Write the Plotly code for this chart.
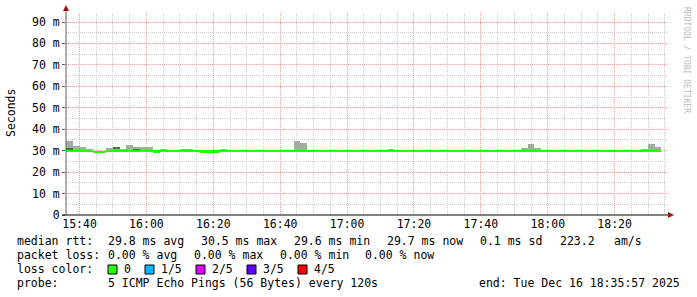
import pandas as pd
import plotly.graph_objects as go

# ---------------- data ----------------
start_time = "2025-12-16 15:36:00"
axis_start = "2025-12-16 15:35:57"
axis_end = "2025-12-16 18:35:57"
step_minutes = 2

median_rtt = [30.0, 30.0, 29.9, 29.9, 29.6, 29.6, 29.9, 29.9, 29.9, 29.9,
              29.9, 29.9, 29.9, 29.7, 29.8, 29.8, 29.8, 29.8, 29.8, 29.8,
              29.7, 29.7, 29.7, 29.8, 29.8, 29.8, 29.8, 29.8, 29.8, 29.8,
              29.8, 29.8, 29.8, 29.8, 29.8, 29.8, 29.8, 29.8, 29.8, 29.8,
              29.8, 29.8, 30.1, 29.8, 29.8, 29.8, 29.8, 30.1, 29.8, 29.8,
              29.8, 29.8, 30.0, 30.0, 29.8, 29.8, 29.8, 29.8, 29.8, 29.8,
              29.8, 29.8, 29.8, 29.8, 29.8, 29.8, 29.8, 29.8, 29.8, 29.8,
              29.8, 29.8, 29.8, 29.8, 29.8, 29.8, 29.8, 29.8, 29.8, 29.8,
              29.8, 29.8, 29.8, 29.8, 29.8, 29.8, 29.8, 29.8, 29.8]

smoke_hi = [34.7, 32.2, 31.6, 30.8, 29.6, 29.6, 31.2, 31.6, 30.8, 32.6,
            31.6, 31.6, 31.6, 29.7, 30.8, 29.8, 29.8, 30.8, 30.8, 29.8,
            29.7, 29.7, 29.7, 30.8, 29.8, 29.8, 29.8, 29.8, 30.4, 29.8,
            29.8, 29.8, 30.3, 29.8, 34.7, 33.7, 29.8, 29.8, 29.8, 29.8,
            29.8, 29.8, 30.1, 29.8, 30.3, 30.3, 29.8, 30.3, 30.8, 29.8,
            29.8, 29.8, 30.0, 30.0, 30.3, 29.8, 29.8, 29.8, 29.8, 29.8,
            29.8, 29.8, 29.8, 29.8, 29.8, 30.3, 30.3, 29.8, 31.2, 33.1,
            31.2, 29.8, 29.8, 29.8, 29.8, 29.8, 29.8, 29.8, 29.8, 29.8,
            29.8, 30.3, 30.3, 30.3, 30.3, 29.8, 30.8, 33.1, 31.8]
smoke_lo = 29.5

dark_steps = [0, 7, 10]
dark_lo = [30.5, 30.8, 30.2]
dark_hi = [30.9, 31.3, 30.9]

ytick_vals = [0, 10, 20, 30, 40, 50, 60, 70, 80, 90]
ytick_text = ["0", "10 m", "20 m", "30 m", "40 m", "50 m", "60 m", "70 m", "80 m", "90 m"]

legend_rows = [
    [("median rtt:", 16), ("29.8 ms avg", 107), ("30.5 ms max", 200), ("29.6 ms min", 293),
     ("29.7 ms now", 386), ("0.1 ms sd", 479), ("223.2", 559), ("am/s", 613)],
    [("packet loss:", 16), ("0.00 % avg", 107), ("0.00 % max", 193), ("0.00 % min", 279),
     ("0.00 % now", 364)],
    [("loss color:", 16)],
    [("probe:", 16), ("5 ICMP Echo Pings (56 Bytes) every 120s", 107),
     ("end: Tue Dec 16 18:35:57 2025", 478)],
]
loss_labels = ["0", "1/5", "2/5", "3/5", "4/5"]
loss_colors = ["#26ff00", "#00b8ff", "#dd00ff", "#5e00ff", "#ff0000"]
loss_box_x = [108, 145, 196, 247, 298]

# ---------------- geometry helpers ----------------
W, H = 697, 297
L, R, T, B = 66, 668, 13, 215
PW, PH = R - L, B - T
MONO = "DejaVu Sans Mono"


def px(x):
    return (x - L) / PW


def py(y):
    return (B - y) / PH


N = len(median_rtt)
times = pd.date_range(start_time, periods=N, freq=f"{step_minutes}min") + pd.Timedelta(minutes=step_minutes / 2)
width_ms = step_minutes * 60 * 1000

fig = go.Figure()

# smoke (light gray)
fig.add_trace(go.Bar(
    x=times, y=[h - smoke_lo for h in smoke_hi], base=smoke_lo, width=width_ms,
    marker=dict(color="#a8a8a8", line=dict(width=0)), hoverinfo="skip", showlegend=False))
# denser smoke (dark gray)
fig.add_trace(go.Bar(
    x=[times[i] for i in dark_steps], y=[h - l for h, l in zip(dark_hi, dark_lo)], base=dark_lo,
    width=width_ms, marker=dict(color="#606060", line=dict(width=0)),
    hoverinfo="skip", showlegend=False))
# median band coloured by loss (all 0 loss -> green)
band = 0.8
fig.add_trace(go.Bar(
    x=times, y=[band] * N, base=[m - band / 2 for m in median_rtt], width=width_ms,
    marker=dict(color=loss_colors[0], line=dict(width=0)), hoverinfo="skip", showlegend=False))

shapes = []
# axis lines
shapes.append(dict(type="line", xref="paper", yref="paper", x0=px(66), x1=px(66), y0=py(215), y1=py(9),
                   line=dict(color="#606060", width=1)))
shapes.append(dict(type="line", xref="paper", yref="paper", x0=px(62), x1=px(670), y0=py(215), y1=py(215),
                   line=dict(color="#000000", width=1)))
# arrows
shapes.append(dict(type="path", xref="paper", yref="paper",
                   path=f"M {px(66)} {py(5)} L {px(63)} {py(11)} L {px(69)} {py(11)} Z",
                   fillcolor="#a01010", line=dict(width=0)))
shapes.append(dict(type="path", xref="paper", yref="paper",
                   path=f"M {px(674)} {py(215)} L {px(668)} {py(212)} L {px(668)} {py(218)} Z",
                   fillcolor="#a01010", line=dict(width=0)))
# loss colour boxes
for bx, col in zip(loss_box_x, loss_colors):
    shapes.append(dict(type="rect", xref="paper", yref="paper",
                       x0=px(bx), x1=px(bx + 9), y0=py(274), y1=py(265),
                       fillcolor=col, line=dict(color="#000000", width=1)))

annotations = []
row_y = [241, 255, 269, 283]
for row, yy in zip(legend_rows, row_y):
    for text, xx in row:
        annotations.append(dict(text=text, x=px(xx), y=py(yy), xref="paper", yref="paper",
                                xanchor="left", yanchor="middle", showarrow=False,
                                font=dict(family=MONO, size=11.5, color="#000000"), borderpad=0))
for lab, bx in zip(loss_labels, loss_box_x):
    annotations.append(dict(text=lab, x=px(bx + 15), y=py(269), xref="paper", yref="paper",
                            xanchor="left", yanchor="middle", showarrow=False,
                            font=dict(family=MONO, size=11.5, color="#000000"), borderpad=0))
# y axis title
annotations.append(dict(text="Seconds", x=px(11), y=py(113), xref="paper", yref="paper",
                        xanchor="center", yanchor="middle", textangle=-90, showarrow=False,
                        font=dict(family=MONO, size=11.5, color="#000000"), borderpad=0))
# watermark
annotations.append(dict(text="RRDTOOL / TOBI OETIKER", x=px(687), y=py(60), xref="paper", yref="paper",
                        xanchor="center", yanchor="middle", textangle=90, showarrow=False,
                        font=dict(family=MONO, size=8, color="#bcbcbc"), borderpad=0))

fig.update_layout(
    width=W, height=H,
    margin=dict(l=L, r=W - R, t=T, b=H - B, pad=0),
    paper_bgcolor="white", plot_bgcolor="white",
    barmode="overlay", bargap=0,
    showlegend=False,
    shapes=shapes, annotations=annotations,
    xaxis=dict(
        type="date", range=[axis_start, axis_end],
        tick0="2025-12-16 15:40:00", dtick=20 * 60 * 1000, tickformat="%H:%M",
        showgrid=True, gridcolor="#eba0a0", griddash="1px,1px", gridwidth=1,
        minor=dict(dtick=5 * 60 * 1000, tick0="2025-12-16 15:40:00", showgrid=True,
                   gridcolor="#cccccc", griddash="1px,1px", gridwidth=1),
        showline=False, zeroline=False, ticks="",
        tickfont=dict(family=MONO, size=11.5, color="#000000"),
    ),
    yaxis=dict(
        range=[0, 94.2], tickvals=ytick_vals, ticktext=ytick_text,
        showgrid=True, gridcolor="#eba0a0", griddash="1px,1px", gridwidth=1,
        minor=dict(dtick=5, showgrid=True, gridcolor="#cccccc", griddash="1px,1px", gridwidth=1),
        showline=False, zeroline=False, ticks="outside", ticklen=3, tickcolor="#606060",
        tickfont=dict(family=MONO, size=11.5, color="#000000"),
    ),
)

fig.write_html("out.html")
